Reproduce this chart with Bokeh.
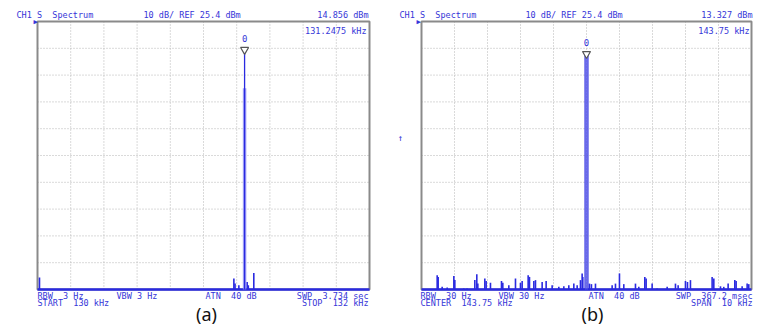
from bokeh.plotting import figure
from bokeh.layouts import row
from bokeh.models import Label, Range1d
from bokeh.core.properties import value
from bokeh.embed import file_html
from bokeh.resources import INLINE

# ---------------- data ----------------
ref_level = 25.4          # dBm at top graticule line
db_per_div = 10
n_div = 10

# panel (a): start/stop sweep
a_start, a_stop = 130.0, 132.0
a_peak_freq = 131.2475
a_peak_level = 14.856
a_shoulder_level = 0.5
a_spur_freq = [130.012, 131.183, 131.190, 131.213, 131.263, 131.270, 131.303]
a_spur_level = [-70.1, -70.5, -72.4, -73.0, -71.8, -73.0, -68.4]

# panel (b): centre/span sweep
b_center, b_span = 143.75, 10.0
b_peak_freq = 143.75
b_peak_level = 13.327
b_spur_freq = [139.225, 139.255, 139.376, 139.528, 139.73, 139.76, 140.03, 140.13,
               140.366, 140.426, 140.457, 140.669, 140.709, 140.84, 141.174, 141.214,
               141.396, 141.598, 141.749, 141.80, 141.982, 142.022, 142.154, 142.204,
               142.406, 142.527, 142.709, 142.911, 143.063, 143.214, 143.366, 143.467,
               143.567, 143.618, 143.638, 143.84, 143.90, 144.022, 144.527, 144.628,
               144.749, 144.88, 145.234, 145.335, 145.517, 145.557, 145.739, 145.89,
               146.194, 146.446, 146.527, 146.749, 146.81, 146.90, 147.557, 147.608,
               147.81, 147.91, 148.042, 148.244, 148.284, 148.466, 148.618, 148.668]
b_spur_level = [-69.3, -69.9, -73.6, -73.9, -69.6, -71.1, -74.2, -74.2,
                -71.1, -68.9, -72.4, -70.5, -71.4, -72.1, -71.4, -72.1,
                -73.0, -70.5, -72.1, -71.4, -69.3, -69.9, -71.4, -71.1,
                -71.8, -71.4, -73.0, -73.6, -73.4, -73.0, -72.4, -73.0,
                -71.1, -68.6, -69.9, -72.4, -72.6, -72.4, -73.0, -72.4,
                -68.6, -72.6, -72.4, -73.6, -69.9, -70.5, -72.4, -74.2,
                -73.6, -72.4, -73.0, -71.4, -71.8, -71.1, -69.9, -70.5,
                -73.4, -73.6, -72.4, -71.1, -71.4, -73.4, -72.4, -72.6]

a_header = ["CH1 S  Spectrum", "10 dB/ REF 25.4 dBm", "14.856 dBm"]
a_marker_text = "131.2475 kHz"
a_footer1 = ["RBW  3 Hz", "VBW 3 Hz", "ATN  40 dB", "SWP  3.734 sec"]
a_footer2 = ["START  130 kHz", "STOP  132 kHz"]

b_header = ["CH1 S  Spectrum", "10 dB/ REF 25.4 dBm", "13.327 dBm"]
b_marker_text = "143.75 kHz"
b_footer1 = ["RBW  30 Hz", "VBW 30 Hz", "ATN  40 dB", "SWP  367.2 msec"]
b_footer2 = ["CENTER  143.75 kHz", "SPAN  10 kHz"]

# ---------------- styling ----------------
BLUE_TXT = "#3636d8"
TRACE = "#2a2ae0"
TRACE_LIGHT = "#8c8cf5"
GRID = "#b4b4b4"
FRAME = "#8a8a8a"
MONO = "DejaVu Sans Mono"
FS = "8.5px"

H = 330
FT, FB = 21, 289          # graticule top / bottom (window px)
bottom_level = ref_level - db_per_div * n_div


def panel(offset, width, fl, fr, x0, x1, spur_f, spur_l):
    def X(px):
        return x0 + (px - fl) / (fr - fl) * (x1 - x0)

    def Y(py):
        return ref_level - (py - FT) / (FB - FT) * (db_per_div * n_div)

    p = figure(width=width, height=H,
               x_range=Range1d(X(offset), X(offset + width)),
               y_range=Range1d(Y(H), Y(0)),
               min_border=0, toolbar_location=None, output_backend="svg")
    p.xaxis.visible = False
    p.yaxis.visible = False
    p.xgrid.visible = False
    p.ygrid.visible = False
    p.outline_line_color = None
    p.background_fill_color = "white"
    p.border_fill_color = "white"

    step_x = (x1 - x0) / n_div
    gx = [x0 + i * step_x for i in range(1, n_div)]
    gy = [bottom_level + i * db_per_div for i in range(1, n_div)]
    p.segment(x0=gx, y0=[bottom_level] * len(gx), x1=gx, y1=[ref_level] * len(gx),
              line_color=GRID, line_width=1, line_dash="1 2")
    p.segment(x0=[x0] * len(gy), y0=gy, x1=[x1] * len(gy), y1=gy,
              line_color=GRID, line_width=1, line_dash="1 2")
    # graticule frame
    p.quad(left=[x0], right=[x1], bottom=[bottom_level], top=[ref_level],
           fill_color=None, line_color=FRAME, line_width=2)
    # noise floor along the bottom
    p.line([x0, x1], [bottom_level, bottom_level], line_color=TRACE, line_width=2.5)
    # spurs
    p.segment(x0=spur_f, y0=[bottom_level] * len(spur_f), x1=spur_f, y1=spur_l,
              line_color=TRACE, line_width=1.6)
    return p, X, Y


def add_text(p, x, y, text, align="left", color=BLUE_TXT, font=MONO, size=FS):
    p.add_layout(Label(x=x, y=y, text=text.replace(" ", "\u00a0"), text_font=font,
                       text_font_size=size, text_color=color, text_align=align,
                       text_baseline="middle"))


def add_marker(p, f, lvl):
    p.scatter([f], [lvl], marker="inverted_triangle", size=8,
              fill_color="white", line_color="#555555", line_width=1.2)
    p.text([f], [lvl], text=["0"], text_font=value(MONO),
           text_font_size="9px", text_color=BLUE_TXT, text_align="center",
           text_baseline="middle", y_offset=-11)


R1, R2 = 295.5, 302.5

# ---------------- panel (a) ----------------
pa, XA, YA = panel(0, 386, 37, 369, a_start, a_stop, a_spur_freq, a_spur_level)
pa.segment(x0=[a_peak_freq], y0=[bottom_level], x1=[a_peak_freq], y1=[a_shoulder_level],
           line_color=TRACE_LIGHT, line_width=3.5, line_alpha=0.8)
pa.segment(x0=[a_peak_freq], y0=[bottom_level], x1=[a_peak_freq], y1=[a_peak_level],
           line_color=TRACE, line_width=1.3)
add_marker(pa, a_peak_freq, a_peak_level)

add_text(pa, XA(16), YA(14.5), a_header[0])
add_text(pa, XA(143), YA(14.5), a_header[1])
add_text(pa, XA(368), YA(14.5), a_header[2], align="right")
add_text(pa, XA(366), YA(30), a_marker_text, align="right")
add_text(pa, XA(37), YA(R1), a_footer1[0])
add_text(pa, XA(116), YA(R1), a_footer1[1])
add_text(pa, XA(205), YA(R1), a_footer1[2])
add_text(pa, XA(368), YA(R1), a_footer1[3], align="right")
add_text(pa, XA(37), YA(R2), a_footer2[0])
add_text(pa, XA(368), YA(R2), a_footer2[1], align="right")
add_text(pa, XA(35), YA(21), "▶", align="center", size="7px")
add_text(pa, XA(206), YA(313), "(a)", align="center", color="#111111",
         font="Noto Sans", size="18px")

# ---------------- panel (b) ----------------
b_x0, b_x1 = b_center - b_span / 2, b_center + b_span / 2
pb, XB, YB = panel(386, 387, 421, 751, b_x0, b_x1, b_spur_freq, b_spur_level)
half_w = 0.045
pb.quad(left=[b_peak_freq - half_w], right=[b_peak_freq + half_w],
        bottom=[bottom_level], top=[b_peak_level], fill_color=TRACE_LIGHT,
        fill_alpha=0.6, line_color=None)
pb.segment(x0=[b_peak_freq - half_w, b_peak_freq + half_w], y0=[bottom_level] * 2,
           x1=[b_peak_freq - half_w, b_peak_freq + half_w], y1=[b_peak_level] * 2,
           line_color=TRACE, line_width=1.1)
pb.segment(x0=[b_peak_freq], y0=[bottom_level], x1=[b_peak_freq], y1=[b_peak_level],
           line_color=TRACE, line_width=1, line_dash="1 1")
add_marker(pb, b_peak_freq, b_peak_level)

add_text(pb, XB(399), YB(14.5), b_header[0])
add_text(pb, XB(525), YB(14.5), b_header[1])
add_text(pb, XB(752), YB(14.5), b_header[2], align="right")
add_text(pb, XB(749), YB(30), b_marker_text, align="right")
add_text(pb, XB(420), YB(R1), b_footer1[0])
add_text(pb, XB(498), YB(R1), b_footer1[1])
add_text(pb, XB(588), YB(R1), b_footer1[2])
add_text(pb, XB(752), YB(R1), b_footer1[3], align="right")
add_text(pb, XB(420), YB(R2), b_footer2[0])
add_text(pb, XB(752), YB(R2), b_footer2[1], align="right")
add_text(pb, XB(418), YB(21), "▶", align="center", size="7px")
add_text(pb, XB(400), YB(137), "↑", align="center", size="9px")
add_text(pb, XB(592), YB(313), "(b)", align="center", color="#111111",
         font="Noto Sans", size="18px")

layout = row(pa, pb)
open("out.html", "w").write(file_html(layout, INLINE))
